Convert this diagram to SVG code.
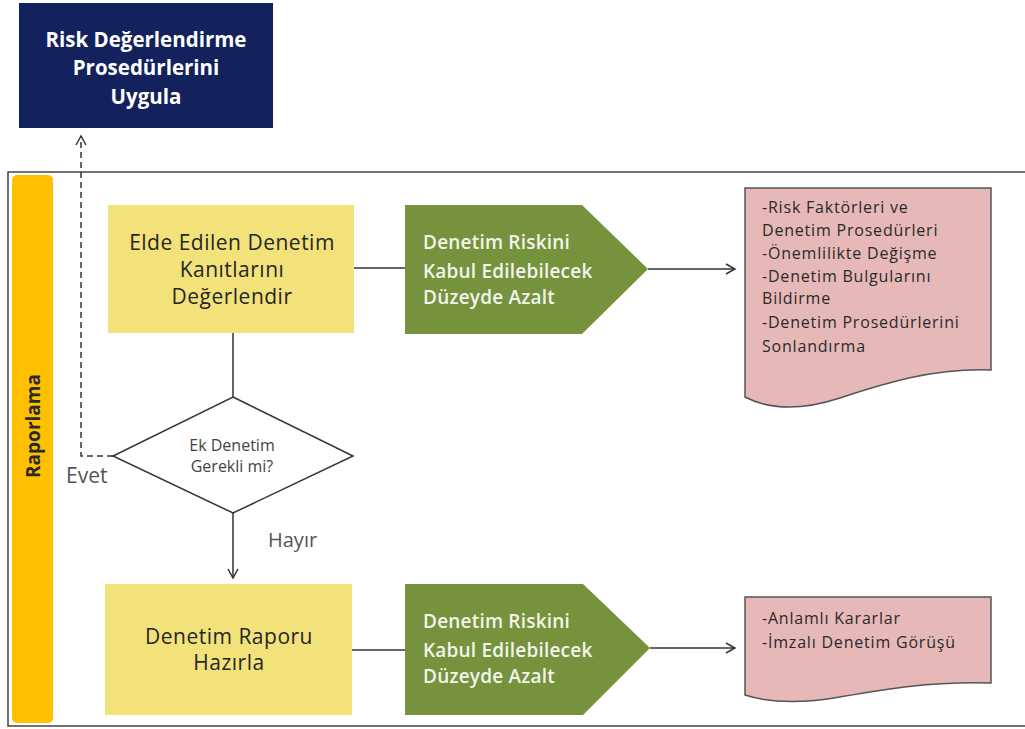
<svg xmlns="http://www.w3.org/2000/svg" width="1025" height="729" viewBox="0 0 1025 729">
<defs>
<style>
.t{font-family:"Open Sans",Lato,"Liberation Sans",sans-serif}
.navy{fill:#13215c}
.navyt{fill:#fff;font-size:20.5px;font-weight:bold}
.yel{fill:#f3e27a}
.yelt{fill:#262626;font-size:21px;letter-spacing:0.5px}
.grn{fill:#76923c}
.grnt{fill:#f2f5ec;font-size:19px;font-weight:600;letter-spacing:0.2px}
.doc{fill:#e6b8b8;stroke:#555;stroke-width:1.5}
.doct{fill:#2a2a2a;font-size:16px;letter-spacing:0.8px}
.ln{stroke:#333;stroke-width:1.5;fill:none}
.lbl{fill:#555}
</style>
<marker id="ah" markerWidth="12" markerHeight="12" refX="10" refY="6" orient="auto" markerUnits="userSpaceOnUse">
<path d="M1,1 L10,6 L1,11" fill="none" stroke="#333" stroke-width="1.5"/>
</marker>
</defs>
<rect width="1025" height="729" fill="#fff"/>
<g id="frame">
<path d="M1025,172 H8 V726 H1025" fill="none" stroke="#444" stroke-width="1.5"/>
</g>
<g id="lane">
<rect x="12" y="175" width="41" height="548" rx="5" fill="#ffc000"/>
<text class="t" transform="translate(40,426) rotate(-90)" text-anchor="middle" font-size="19" font-weight="bold" fill="#2a2a2a">Raporlama</text>
</g>
<g id="connectors">
<path class="ln" d="M113,456 H81 V136" stroke-dasharray="6,4" marker-end="url(#ah)"/>
<path class="ln" d="M354,268 H405"/>
<path class="ln" d="M648,269 H735" marker-end="url(#ah)"/>
<path class="ln" d="M233,333 V397"/>
<path class="ln" d="M233,513 V578" marker-end="url(#ah)"/>
<path class="ln" d="M352,650 H405" stroke="#777"/>
<path class="ln" d="M650,648 H735" marker-end="url(#ah)"/>
<text class="t lbl" x="66" y="483" font-size="21">Evet</text>
<text class="t lbl" x="268" y="547" font-size="20" fill="#444">Hayır</text>
</g>
<g id="risk-deg">
<rect class="navy" x="19" y="3" width="254" height="125"/>
<text class="t navyt" text-anchor="middle"><tspan x="146" y="47">Risk Değerlendirme</tspan><tspan x="146" y="75">Prosedürlerini</tspan><tspan x="146" y="104">Uygula</tspan></text>
</g>
<g id="elde-edilen">
<rect class="yel" x="108" y="205" width="246" height="128"/>
<text class="t yelt" text-anchor="middle"><tspan x="232" y="250">Elde Edilen Denetim</tspan><tspan x="232" y="277">Kanıtlarını</tspan><tspan x="232" y="304">Değerlendir</tspan></text>
</g>
<g id="azalt-1">
<path class="grn" d="M405,205 H582 L648,269 L582,334 H405 Z"/>
<text class="t grnt"><tspan x="423" y="249">Denetim Riskini</tspan><tspan x="423" y="278">Kabul Edilebilecek</tspan><tspan x="423" y="304">Düzeyde Azalt</tspan></text>
</g>
<g id="doc-1">
<path class="doc" d="M745,188 H991 V370 C930,368 880,385 840,398 C800,411 770,410 745,397 Z"/>
<text class="t doct"><tspan x="762" y="213">-Risk Faktörleri ve</tspan><tspan x="762" y="236">Denetim Prosedürleri</tspan><tspan x="762" y="259">-Önemlilikte Değişme</tspan><tspan x="762" y="282">-Denetim Bulgularını</tspan><tspan x="762" y="304">Bildirme</tspan><tspan x="762" y="328">-Denetim Prosedürlerini</tspan><tspan x="762" y="352">Sonlandırma</tspan></text>
</g>
<g id="ek-denetim">
<path d="M233,397 L353,456 L233,513 L113,456 Z" fill="#fff" stroke="#333" stroke-width="1.5"/>
<text class="t" text-anchor="middle" font-size="16" fill="#444"><tspan x="232" y="451">Ek Denetim</tspan><tspan x="232" y="472">Gerekli mi?</tspan></text>
</g>
<g id="rapor">
<rect class="yel" x="105" y="584" width="247" height="131"/>
<text class="t yelt" text-anchor="middle"><tspan x="229" y="644">Denetim Raporu</tspan><tspan x="229" y="670">Hazırla</tspan></text>
</g>
<g id="azalt-2">
<path class="grn" d="M405,584 H583 L650,648 L583,715 H405 Z"/>
<text class="t grnt"><tspan x="423" y="628">Denetim Riskini</tspan><tspan x="423" y="657">Kabul Edilebilecek</tspan><tspan x="423" y="683">Düzeyde Azalt</tspan></text>
</g>
<g id="doc-2">
<path class="doc" d="M745,597 H991 V683 C930,681 880,690 840,697 C800,704 770,703 745,695 Z"/>
<text class="t doct"><tspan x="762" y="624">-Anlamlı Kararlar</tspan><tspan x="762" y="648">-İmzalı Denetim Görüşü</tspan></text>
</g>
</svg>
